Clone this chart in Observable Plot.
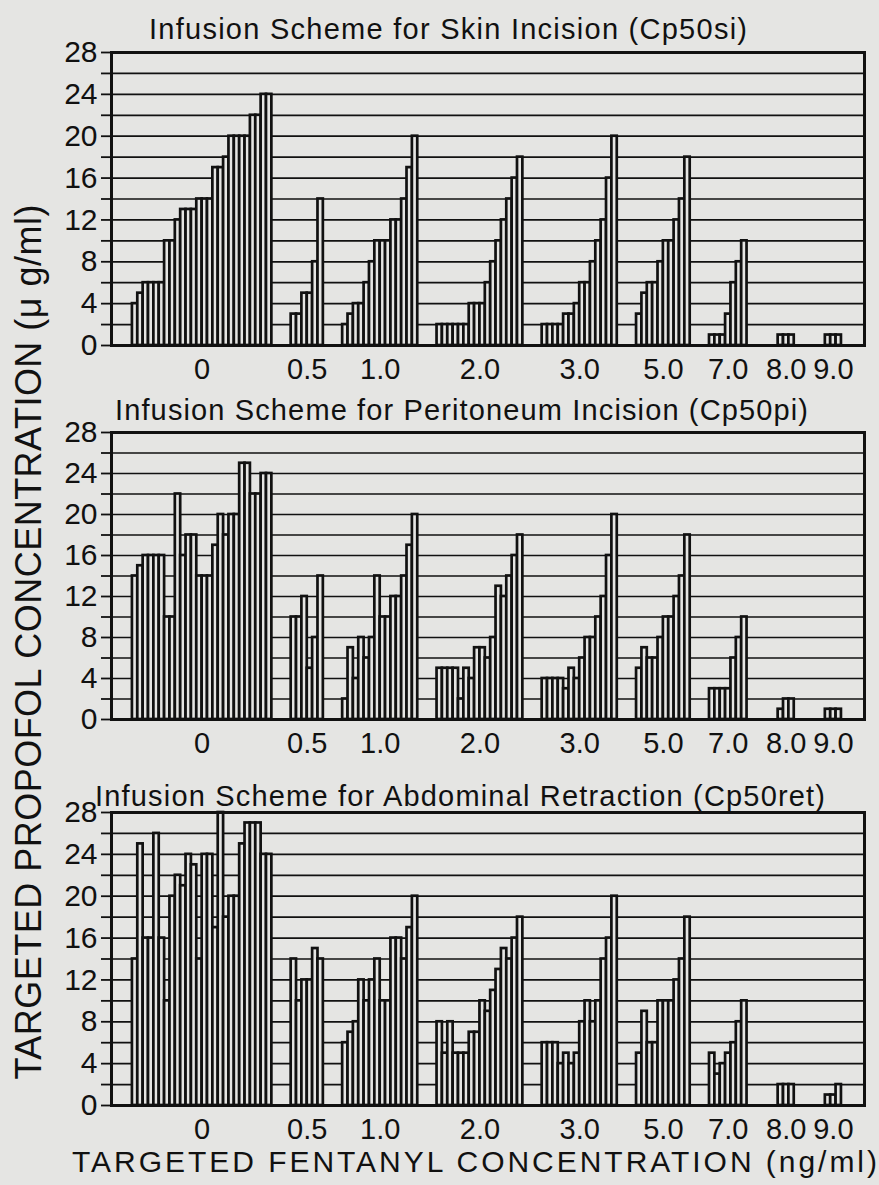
<!DOCTYPE html>
<html>
<head>
<meta charset="utf-8">
<script src="https://cdn.jsdelivr.net/npm/d3@7"></script>
<script src="https://cdn.jsdelivr.net/npm/@observablehq/plot@0.6"></script>
<style>
  html, body { margin: 0; padding: 0; background: #e5e5e3; }
  #wrap { position: relative; width: 879px; height: 1185px; background: #e5e5e3; overflow: hidden;
          font-family: "Liberation Sans", Arial, Helvetica, sans-serif; color: #111; }
  .panel { position: absolute; left: 0; }
  #overlay { position: absolute; left: 0; top: 0; pointer-events: none; }
</style>
</head>
<body>
<div id="wrap">
  <div class="panel" id="p1"></div>
  <div class="panel" id="p2"></div>
  <div class="panel" id="p3"></div>
  <svg id="overlay" width="879" height="1185" font-family="Liberation Sans, Arial, Helvetica, sans-serif" fill="#111">
    <text id="t1" x="448" y="39" font-size="29" text-anchor="middle" lengthAdjust="spacing" textLength="598"></text>
    <text id="t2" x="461.5" y="420" font-size="29" text-anchor="middle" lengthAdjust="spacing" textLength="693"></text>
    <text id="t3" x="460" y="806" font-size="29" text-anchor="middle" lengthAdjust="spacing" textLength="730"></text>
    <text id="xl" x="474.5" y="1172" font-size="30" text-anchor="middle" lengthAdjust="spacing" textLength="805"></text>
    <text id="yl" x="0" y="0" font-size="36" text-anchor="middle" lengthAdjust="spacing" textLength="875" transform="translate(41,642) rotate(-90)"></text>
  </svg>
</div>
<script>
// ---------------- DATA ----------------
const groups = ["0", "0.5", "1.0", "2.0", "3.0", "5.0", "7.0", "8.0", "9.0"];
const yTicks = [0, 2, 4, 6, 8, 10, 12, 14, 16, 18, 20, 22, 24, 26, 28];
const yLabelTicks = [0, 4, 8, 12, 16, 20, 24, 28];

const titles = [
  "Infusion Scheme for Skin Incision (Cp50si)",
  "Infusion Scheme for Peritoneum Incision (Cp50pi)",
  "Infusion Scheme for Abdominal Retraction (Cp50ret)"
];
const xTitle = "TARGETED FENTANYL CONCENTRATION (ng/ml)";
const yTitle = "TARGETED PROPOFOL CONCENTRATION (\u03bc g/ml)";

// targeted propofol concentration per patient, grouped by fentanyl concentration
const skinIncision = [
  [4, 5, 6, 6, 6, 6, 10, 10, 12, 13, 13, 13, 14, 14, 14, 17, 17, 18, 20, 20, 20, 20, 22, 22, 24, 24],
  [3, 3, 5, 5, 8, 14],
  [2, 3, 4, 4, 6, 8, 10, 10, 10, 12, 12, 14, 17, 20],
  [2, 2, 2, 2, 2, 2, 4, 4, 4, 6, 8, 10, 12, 14, 16, 18],
  [2, 2, 2, 2, 3, 3, 4, 6, 6, 8, 10, 12, 16, 20],
  [3, 5, 6, 6, 8, 10, 10, 12, 14, 18],
  [1, 1, 1, 3, 6, 8, 10],
  [1, 1, 1],
  [1, 1, 1]
];
const peritoneumIncision = [
  [14, 15, 16, 16, 16, 16, 10, 10, 22, 16, 18, 18, 14, 14, 14, 17, 20, 18, 20, 20, 25, 25, 22, 22, 24, 24],
  [10, 10, 12, 5, 8, 14],
  [2, 7, 4, 8, 6, 8, 14, 10, 10, 12, 12, 14, 17, 20],
  [5, 5, 5, 5, 2, 5, 4, 7, 7, 6, 8, 13, 12, 14, 16, 18],
  [4, 4, 4, 4, 3, 5, 4, 6, 8, 8, 10, 12, 16, 20],
  [5, 7, 6, 6, 8, 10, 10, 12, 14, 18],
  [3, 3, 3, 3, 6, 8, 10],
  [1, 2, 2],
  [1, 1, 1]
];
const abdominalRetraction = [
  [14, 25, 16, 16, 26, 16, 10, 20, 22, 21, 24, 23, 14, 24, 24, 17, 28, 18, 20, 20, 25, 27, 27, 27, 24, 24],
  [14, 10, 12, 12, 15, 14],
  [6, 7, 8, 12, 10, 12, 14, 10, 10, 16, 16, 14, 17, 20],
  [8, 5, 8, 5, 5, 5, 7, 7, 10, 9, 11, 13, 15, 14, 16, 18],
  [6, 6, 6, 4, 5, 4, 5, 8, 10, 8, 10, 14, 16, 20],
  [5, 9, 6, 6, 10, 10, 10, 12, 14, 18],
  [5, 3, 4, 5, 6, 8, 10],
  [2, 2, 2],
  [1, 1, 2]
];

// ---------------- LAYOUT (bar units along x) ----------------
const LEAD = 3.9, TRAIL = 4.3, GAP = 3.6, WIDE_GAP = 5.8;
const BG = "#e5e5e3", INK = "#111";
const FONT = "Liberation Sans, Arial, Helvetica, sans-serif";

function buildRows(values) {
  const rows = [], centers = [];
  let pos = LEAD;
  values.forEach((vals, gi) => {
    const start = pos;
    vals.forEach((v, i) => rows.push({group: groups[gi], x1: pos + i, x2: pos + i + 1, v}));
    pos += vals.length;
    centers.push({label: groups[gi], c: (start + pos) / 2});
    if (gi < values.length - 1) pos += (gi >= 6 ? WIDE_GAP : GAP);
  });
  return {rows, centers, end: pos + TRAIL};
}

function panel(values, innerH) {
  const {rows, centers, end} = buildRows(values);
  const labelOf = new Map(centers.map(d => [d.c, d.label]));
  return Plot.plot({
    width: 879,
    height: innerH + 10 + 50,
    marginLeft: 111, marginRight: 15, marginTop: 10, marginBottom: 50,
    style: {background: "transparent", fontFamily: FONT, fontSize: "29px", color: INK, overflow: "visible"},
    x: {domain: [0, end], axis: null},
    y: {domain: [0, 28], axis: null},
    marks: [
      Plot.ruleY(yTicks.filter(d => d > 0 && d < 28), {stroke: INK, strokeWidth: 1.7}),
      Plot.rectY(rows, {x1: "x1", x2: "x2", y1: 0, y2: "v", fill: BG, stroke: INK, strokeWidth: 2.7}),
      Plot.frame({stroke: INK, strokeWidth: 3}),
      Plot.axisY(yTicks, {anchor: "left", tickSize: 10, tickPadding: 4, strokeWidth: 1.8,
        tickFormat: d => yLabelTicks.includes(d) ? String(d) : "", fontSize: 30, label: null}),
      Plot.axisX(centers.map(d => d.c), {anchor: "bottom", tickSize: 0, tickPadding: 13,
        tickFormat: d => labelOf.get(d), fontSize: 29, label: null})
    ]
  });
}

const specs = [
  {id: "p1", values: skinIncision, top: 42, innerH: 293},
  {id: "p2", values: peritoneumIncision, top: 422, innerH: 287},
  {id: "p3", values: abdominalRetraction, top: 802, innerH: 293}
];
specs.forEach(s => {
  const el = document.getElementById(s.id);
  el.style.top = s.top + "px";
  el.appendChild(panel(s.values, s.innerH));
});

document.getElementById("t1").textContent = titles[0];
document.getElementById("t2").textContent = titles[1];
document.getElementById("t3").textContent = titles[2];
document.getElementById("xl").textContent = xTitle;
document.getElementById("yl").textContent = yTitle;
</script>
</body>
</html>
